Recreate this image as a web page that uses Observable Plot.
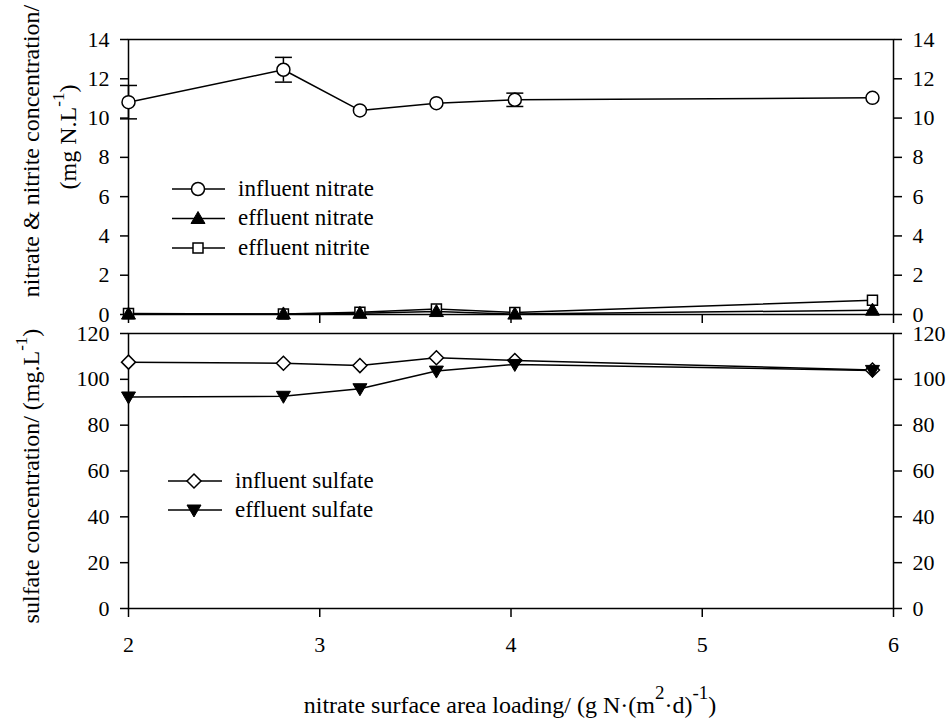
<!DOCTYPE html>
<html><head><meta charset="utf-8">
<script src="https://cdn.jsdelivr.net/npm/d3@7"></script>
<script src="https://cdn.jsdelivr.net/npm/@observablehq/plot@0.6"></script>
<style>
html,body{margin:0;padding:0;background:#fff;}
#chart{position:relative;width:950px;height:721px;}
#chart svg{position:absolute;left:0;}
</style></head><body><div id="chart"></div>
<script>
// ---- data ----
const loading = [2.0, 2.81, 3.21, 3.61, 4.02, 5.89];
const influentNitrate = [10.81, 12.46, 10.39, 10.76, 10.93, 11.03];
const influentNitrateSD = [0.85, 0.63, null, null, 0.34, null];
const effluentNitrate = [0.02, 0.03, 0.06, 0.15, 0.02, 0.22];
const effluentNitrite = [0.05, 0.02, 0.12, 0.28, 0.10, 0.72];
const influentSulfate = [107.5, 107.0, 106.0, 109.4, 108.2, 104.1];
const effluentSulfate = [92.3, 92.6, 95.9, 103.6, 106.5, 103.9];
const xTicks = [2, 3, 4, 5, 6];
const yTicksTop = [0, 2, 4, 6, 8, 10, 12, 14];
const yTicksBottom = [0, 20, 40, 60, 80, 100, 120];
const topLegend = ["influent nitrate", "effluent nitrate", "effluent nitrite"];
const bottomLegend = ["influent sulfate", "effluent sulfate"];

const rows = loading.map((x, i) => ({
  x, inN: influentNitrate[i], sd: influentNitrateSD[i],
  efN: effluentNitrate[i], efNi: effluentNitrite[i],
  inS: influentSulfate[i], efS: effluentSulfate[i]
}));
const errRows = rows.filter(d => d.sd != null);

const FONT = '"Liberation Serif", "Times New Roman", serif';
const sym = {
  circle: {draw(c){ c.moveTo(6.5,0); c.arc(0,0,6.5,0,2*Math.PI); }},
  triUp: {draw(c){ c.moveTo(0,-7); c.lineTo(7,5); c.lineTo(-7,5); c.closePath(); }},
  triDown: {draw(c){ c.moveTo(0,7); c.lineTo(7,-5); c.lineTo(-7,-5); c.closePath(); }},
  square: {draw(c){ c.rect(-5,-5,10,10); }},
  diamond: {draw(c){ c.moveTo(0,-7); c.lineTo(7,0); c.lineTo(0,7); c.lineTo(-7,0); c.closePath(); }},
  cap: {draw(c){ c.moveTo(-8.5,0); c.lineTo(8.5,0); }}
};
const LW = 1.5;
const baseStyle = {fontFamily: FONT, fontSize: "22px", color: "black", background: "transparent", overflow: "visible"};
const common = {width: 950, marginLeft: 128, marginRight: 57, x: {domain: [2, 6]}};
const intFmt = d => String(d);

const topPlot = Plot.plot({
  ...common, height: 330, marginTop: 39, marginBottom: 16,
  y: {domain: [0, 14]},
  style: baseStyle,
  marks: [
    Plot.frame({stroke: "black", strokeWidth: LW}),
    Plot.axisY({ticks: yTicksTop, anchor: "left", tickSize: 8, tickPadding: 11, tickFormat: intFmt, strokeWidth: LW, label: null}),
    Plot.axisY({ticks: yTicksTop, anchor: "right", tickSize: 8, tickPadding: 11, tickFormat: intFmt, strokeWidth: LW, label: null}),
    Plot.axisX({ticks: xTicks, anchor: "bottom", tickSize: 9, tickFormat: () => "", strokeWidth: LW, label: null}),
    Plot.line(rows, {x: "x", y: "inN", stroke: "black", strokeWidth: LW}),
    Plot.line(rows, {x: "x", y: "efNi", stroke: "black", strokeWidth: LW}),
    Plot.line(rows, {x: "x", y: "efN", stroke: "black", strokeWidth: LW}),
    Plot.ruleX(errRows, {x: "x", y1: d => d.inN - d.sd, y2: d => d.inN + d.sd, stroke: "black", strokeWidth: LW}),
    Plot.dot(errRows, {x: "x", y: d => d.inN + d.sd, symbol: sym.cap, r: 5, stroke: "black", fill: "none", strokeWidth: LW}),
    Plot.dot(errRows, {x: "x", y: d => d.inN - d.sd, symbol: sym.cap, r: 5, stroke: "black", fill: "none", strokeWidth: LW}),
    Plot.dot(rows, {x: "x", y: "efNi", symbol: sym.square, r: 5, stroke: "black", fill: "white", strokeWidth: LW}),
    Plot.dot(rows, {x: "x", y: "efN", symbol: sym.triUp, r: 5, stroke: "black", fill: "black", strokeWidth: 1}),
    Plot.dot(rows, {x: "x", y: "inN", symbol: sym.circle, r: 5, stroke: "black", fill: "white", strokeWidth: LW})
  ]
});

const bottomPlot = Plot.plot({
  ...common, height: 421, marginTop: 33, marginBottom: 113,
  y: {domain: [0, 120]},
  style: baseStyle,
  marks: [
    Plot.frame({stroke: "black", strokeWidth: LW}),
    Plot.axisY({ticks: yTicksBottom, anchor: "left", tickSize: 8, tickPadding: 11, tickFormat: intFmt, strokeWidth: LW, label: null}),
    Plot.axisY({ticks: yTicksBottom, anchor: "right", tickSize: 8, tickPadding: 11, tickFormat: intFmt, strokeWidth: LW, label: null}),
    Plot.axisX({ticks: xTicks, anchor: "bottom", tickSize: 9, tickPadding: 19, tickFormat: intFmt, strokeWidth: LW, label: null}),
    Plot.line(rows, {x: "x", y: "inS", stroke: "black", strokeWidth: LW}),
    Plot.line(rows, {x: "x", y: "efS", stroke: "black", strokeWidth: LW}),
    Plot.dot(rows, {x: "x", y: "inS", symbol: sym.diamond, r: 5, stroke: "black", fill: "white", strokeWidth: LW}),
    Plot.dot(rows, {x: "x", y: "efS", symbol: sym.triDown, r: 5, stroke: "black", fill: "black", strokeWidth: 1})
  ]
});

const chart = document.getElementById("chart");
topPlot.style.top = "0px";
bottomPlot.style.top = "300px";
topPlot.style.background = "white";
chart.appendChild(topPlot);
chart.appendChild(bottomPlot);

function addText(svg, {x, y, rotate = 0, size, parts}) {
  const t = d3.select(svg).append("text")
    .attr("transform", `translate(${x},${y}) rotate(${rotate})`)
    .attr("text-anchor", "middle").attr("font-size", size)
    .attr("fill", "black").attr("font-family", FONT);
  parts.forEach(p => t.append("tspan").attr("font-size", p.size || size).attr("dy", p.dy || 0).text(p.t));
}
function addLegend(svg, labels, symbols, fills, {x0, x1, xm, xt, ys}) {
  const g = d3.select(svg).append("g");
  labels.forEach((lab, i) => {
    const y = ys[i];
    g.append("line").attr("x1", x0).attr("x2", x1).attr("y1", y).attr("y2", y)
      .attr("stroke", "black").attr("stroke-width", LW);
    g.append("path").attr("d", d3.symbol().type(symbols[i])()).attr("transform", `translate(${xm},${y})`)
      .attr("fill", fills[i]).attr("stroke", "black").attr("stroke-width", fills[i] === "black" ? 1 : LW);
    g.append("text").attr("x", xt).attr("y", y).attr("dy", "0.3em").attr("text-anchor", "start")
      .attr("font-size", 23).attr("font-family", FONT).attr("fill", "black").text(lab);
  });
}

// y titles
addText(topPlot, {x: 39, y: 151, rotate: -90, size: 24, parts: [{t: "nitrate & nitrite concentration/"}]});
addText(topPlot, {x: 76, y: 137, rotate: -90, size: 24, parts: [
  {t: "(mg N.L"}, {t: "-1", size: 17, dy: -12}, {t: ")", dy: 12}]});
addText(bottomPlot, {x: 39, y: 176, rotate: -90, size: 24, parts: [
  {t: "sulfate concentration/ (mg.L"}, {t: "-1", size: 17, dy: -12}, {t: ")", dy: 12}]});
// x title
addText(bottomPlot, {x: 510, y: 413, size: 24, parts: [
  {t: "nitrate surface area loading/ (g N\u00b7(m"}, {t: "2", size: 19, dy: -14},
  {t: "\u00b7d)", dy: 14}, {t: "-1", size: 19, dy: -14}, {t: ")", dy: 14}]});

addLegend(topPlot, topLegend, [sym.circle, sym.triUp, sym.square], ["white", "black", "white"],
  {x0: 172, x1: 225, xm: 198, xt: 238, ys: [189, 218.5, 248]});
addLegend(bottomPlot, bottomLegend, [sym.diamond, sym.triDown], ["white", "black"],
  {x0: 168, x1: 222, xm: 194, xt: 235, ys: [181, 210]});
</script></body></html>
